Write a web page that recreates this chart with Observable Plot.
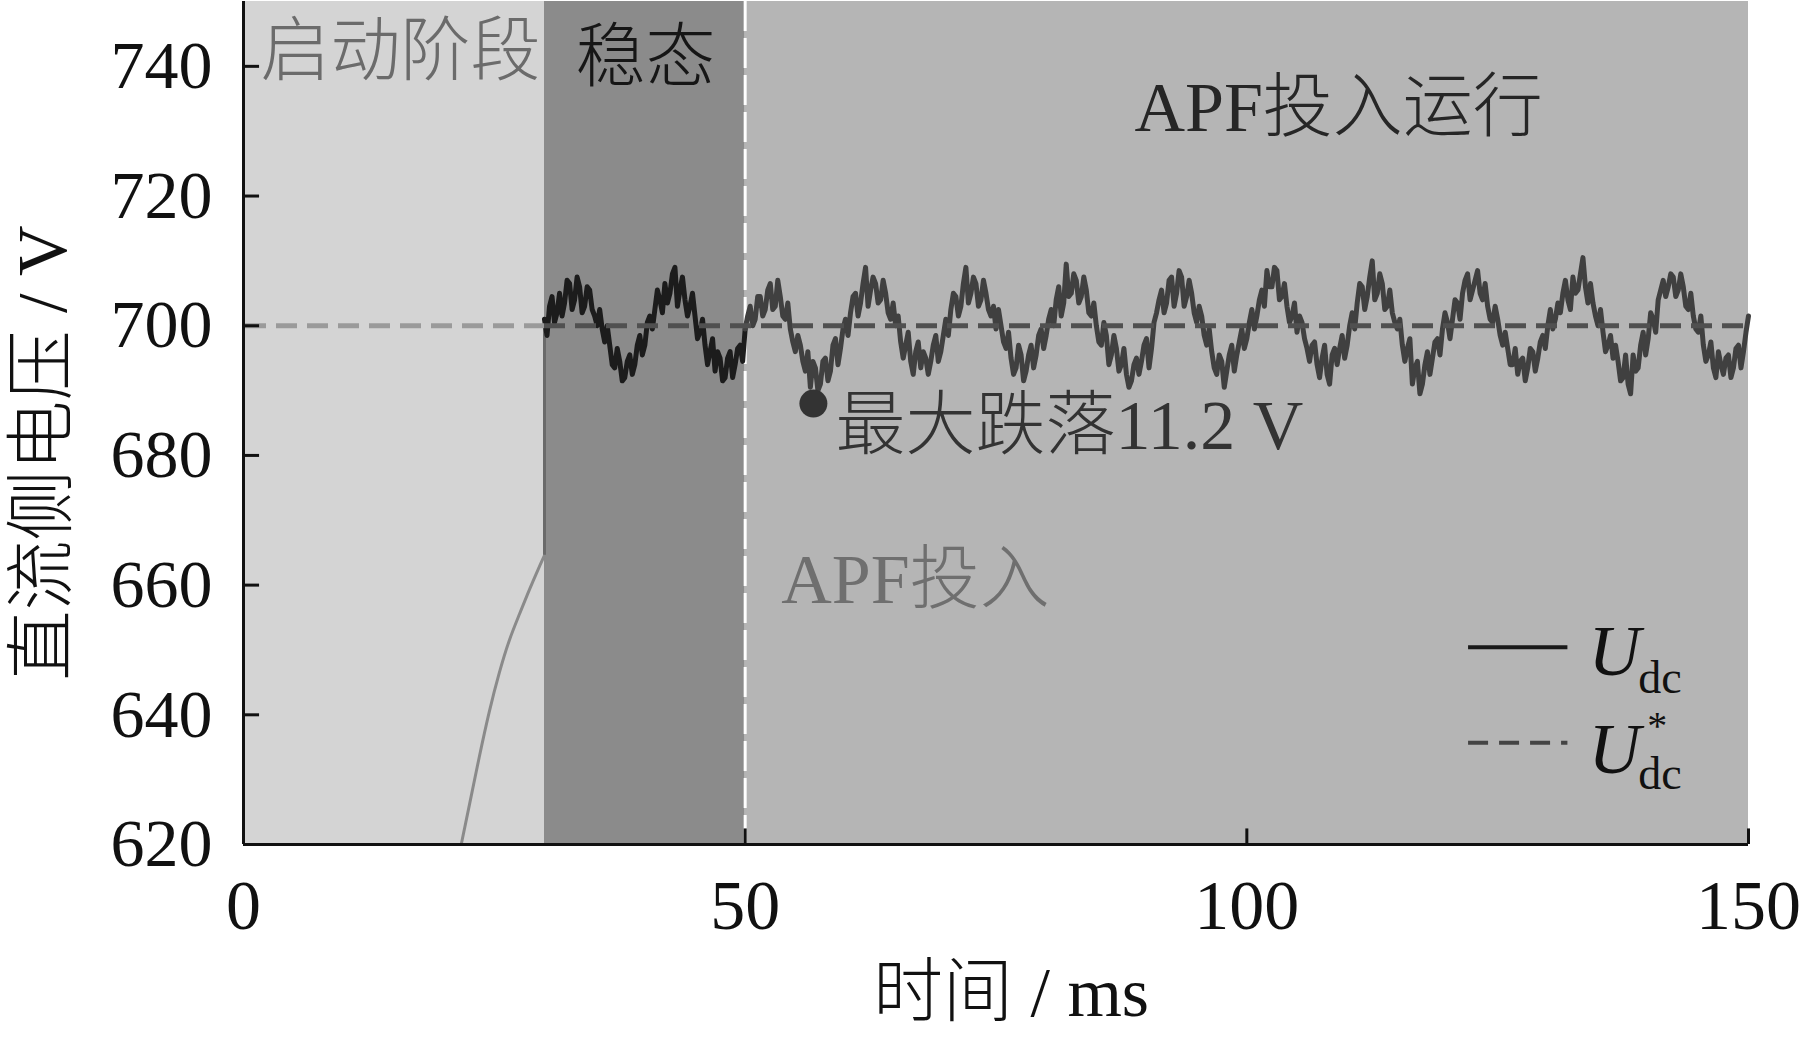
<!DOCTYPE html>
<html>
<head>
<meta charset="utf-8">
<script src="https://cdn.jsdelivr.net/npm/d3@7"></script>
<script src="https://cdn.jsdelivr.net/npm/@observablehq/plot@0.6"></script>
<style>
  html, body { margin: 0; padding: 0; background: #ffffff; }
</style>
</head>
<body>
<div id="chart"></div>
<script>
// ---------- data ----------
const phaseStart = [0, 30, 50];
const phaseEnd = [30, 50, 150];
const xTicks = [0, 50, 100, 150];
const yTicks = [620, 640, 660, 680, 700, 720, 740];
const refVoltage = 700;      // U*dc
const apfTime = 50;          // APF switched in (ms)

// start-up charging curve (ms, V)
const riseTime  = [21.7, 22.5, 23.5, 24.5, 25.5, 26.5, 27.5, 28.5, 29.5, 30];
const riseValue = [620, 626, 633.5, 640.5, 646.5, 651.5, 655.5, 659.3, 662.9, 664.6];
const jumpTop = 701;

// Udc read every 0.5 ms, 30 ms ... 150 ms (V)
const udcStart = 30;
const udcStep = 0.5;
const udcValue = [
  701, 703, 700.5, 705, 703.5, 706.5, 704, 706, 703, 705.5,
  701.5, 702.5, 697.5, 697, 693.5, 694.5, 692, 695.5, 694, 698.5,
  697, 701.5, 702.5, 704, 706.5, 705, 709, 705.5, 704, 703,
  701.5, 699, 697, 696, 693, 695, 692, 696, 694, 697,
  699.5, 703, 701, 704.5, 702.5, 706.5, 703, 704.5, 701, 699.5,
  696, 697, 693, 690.5, 693.5, 691, 695, 693, 698, 696.5,
  701, 702, 705, 703.5, 709, 705.5, 706.5, 704, 705, 701,
  700, 697.5, 697, 694.5, 696, 693.5, 695, 694.5, 698.5, 696,
  701, 702.5, 704.5, 703, 709, 705, 706.5, 704, 705, 701.5,
  699.5, 700, 696.5, 695, 693.5, 695.5, 693, 697, 695.5, 699.5,
  698.5, 702.5, 704, 701.5, 709.5, 705, 707, 704.5, 705.5, 701.5,
  700, 697, 698.5, 695.5, 696.5, 694, 692.5, 691.5, 695, 694.5,
  698, 696.5, 702, 705.5, 703.5, 707.5, 705, 707.5, 704.5, 705,
  700.5, 701.5, 697, 696, 692.5, 694.5, 693, 697, 695.5, 699.5,
  698, 702.5, 701.5, 705.5, 708.5, 706, 708.5, 704.5, 703, 701.5,
  699, 700.5, 696.5, 697, 694, 695, 692.5, 695.5, 694, 698.5,
  697, 702, 703.5, 706, 704.5, 710, 705, 706.5, 703, 702,
  699.5, 697, 696.5, 691, 694.5, 691, 696, 695, 698, 699.5,
  700.5, 701, 703.5, 705, 708, 705.5, 708.5, 704, 703, 700.5,
  701, 697, 696.5, 694, 692.5, 695, 693.5, 696, 695, 698.5,
  700, 699.5, 703.5, 705, 704, 707.5, 705.5, 710.5, 703.5, 703.5,
  700, 699, 697, 695, 694.5, 692, 691, 695.5, 693.5, 699,
  698, 701, 704, 707, 706, 707.5, 705.5, 706, 702.5, 701.5,
  699, 697, 695.5, 693.5, 696, 692.5, 695.5, 693.5, 697, 696,
  701.5
];
// Udc ripple spikes read in between, at 30.25, 30.75, ... 149.75 ms (V)
const udcMidValue = [
  698.5, 704.5, 702, 701.5, 707, 702.5, 707.5, 702, 706, 702.5,
  700, 699.5, 700, 694, 696.5, 691.5, 694.5, 692.5, 697, 695.5,
  700.5, 699.5, 705.5, 702, 703.5, 708, 703, 707.5, 701.5, 705,
  698, 701, 694, 698, 696, 691.5, 695, 692, 696.5, 694.5,
  701.5, 700, 704.5, 701.5, 705.5, 702.5, 707, 701.5, 703.5, 697.5,
  698.5, 694.5, 696, 694.5, 690, 694.5, 691.5, 697, 694, 699.5,
  698.5, 704.5, 701.5, 706.5, 703, 707.5, 703.5, 707, 702, 703.5,
  701.5, 695, 699, 692.5, 697.5, 696, 692.5, 697, 694.5, 698.5,
  698.5, 705, 701.5, 706.5, 703.5, 707.5, 703, 707, 702.5, 703,
  702.5, 697.5, 699, 692.5, 697, 691.5, 695.5, 693.5, 698.5, 696.5,
  701, 700, 706, 703.5, 704.5, 708, 703.5, 707.5, 702, 703.5,
  697.5, 700.5, 694, 698.5, 693, 696.5, 690.5, 694, 692.5, 697,
  693.5, 700.5, 704, 702, 707, 703, 708.5, 703, 707, 702,
  703, 698.5, 699.5, 693.5, 695.5, 690.5, 695.5, 693, 697.5, 696.5,
  700.5, 699.5, 704, 703, 706, 709, 704, 706.5, 700.5, 703.5,
  701.5, 698, 694.5, 697.5, 692, 697, 691, 696.5, 696.5, 695,
  700, 699.5, 706.5, 702.5, 707.5, 704, 708, 702.5, 705.5, 700.5,
  701, 694.5, 698, 693.5, 689.5, 694, 692.5, 697.5, 695.5, 702,
  698, 704, 701, 707, 704, 707, 705, 706.5, 701, 703,
  698.5, 699, 694, 696.5, 694.5, 691.5, 696.5, 693, 697.5, 696.5,
  702.5, 701, 702, 707, 702.5, 705, 708, 706, 706.5, 701.5,
  702.5, 696, 698.5, 697, 691.5, 695.5, 689.5, 693, 697, 695.5,
  702, 699, 705.5, 704.5, 708, 704.5, 708, 703, 705, 699.5,
  701.5, 694.5, 697.5, 692, 694, 695, 692, 696.5, 693.5, 699
];

// maximum dip marker
const dropTime = 56.8;
const dropVolt = 688;

// annotation texts and their anchor (ms, V)
const noteText = ["启动阶段", "稳态", "APF投入运行", "APF投入", "最大跌落11.2 V"];
const noteTime = [1.7, 33.1, 88.8, 53.6, 59.0];
const noteVolt = [742.1, 741.2, 733.5, 660.7, 684.4];

const xTitle = "时间 / ms";
const yTitle = "直流侧电压 / V";

// legend anchors (ms, V)
const legendLineX = [122.1, 132.0];
const legendSolidV = 650.4;
const legendDashV = 635.7;

// ---------- styles ----------
const phaseFill = ["#d4d4d4", "#8b8b8b", "#b5b5b5"];
const noteFill = ["#6b6b6b", "#161616", "#262626", "#6f6f6f", "#333333"];
const FONT = "'Liberation Serif', 'Times New Roman', 'Noto Sans CJK SC', serif";

// ---------- build tables ----------
const phases = phaseStart.map((s, i) => ({start: s, end: phaseEnd[i], fill: phaseFill[i]}));
const udc = [];
udcValue.forEach((v, i) => {
  udc.push({t: udcStart + i * udcStep, v});
  if (i < udcMidValue.length) udc.push({t: udcStart + i * udcStep + udcStep / 2, v: udcMidValue[i]});
});
const steady = udc.filter(d => d.t <= apfTime);
const apf = udc.filter(d => d.t >= apfTime);
const rise = riseTime.map((t, i) => ({t, v: riseValue[i]}));
const notes = noteText.map((s, i) => ({text: s, t: noteTime[i], v: noteVolt[i], fill: noteFill[i]}));

const legendU = [
  {s: "U", t: 134.05, v: 646.1, size: 72, italic: true, anchor: "start"},
  {s: "dc", t: 139.0, v: 643.4, size: 46, italic: false, anchor: "start"},
  {s: "U", t: 134.05, v: 631.1, size: 72, italic: true, anchor: "start"},
  {s: "dc", t: 139.0, v: 628.6, size: 46, italic: false, anchor: "start"},
  {s: "*", t: 140.9, v: 636.3, size: 40, italic: false, anchor: "middle"}
];

const chart = Plot.plot({
  width: 1800,
  height: 1044,
  marginLeft: 243,
  marginRight: 52,
  marginTop: 1,
  marginBottom: 200,
  x: {domain: [0, 150]},
  y: {domain: [620, 750]},
  style: {fontFamily: FONT, fontSize: "68px", color: "#111", background: "transparent", overflow: "visible"},
  marks: [
    ...phases.map(p => Plot.rect([p], {x1: "start", x2: "end", y1: 620, y2: 750, fill: p.fill})),
    Plot.ruleX([apfTime], {stroke: "#ffffff", strokeWidth: 3, strokeDasharray: "30,7"}),
    Plot.line(rise, {x: "t", y: "v", stroke: "#8a8a8a", strokeWidth: 3, curve: "natural"}),
    Plot.ruleX([riseTime[riseTime.length - 1]], {y1: riseValue[riseValue.length - 1], y2: jumpTop, stroke: "#6a6a6a", strokeWidth: 3}),
    Plot.line(steady, {x: "t", y: "v", stroke: "#1c1c1c", strokeWidth: 5}),
    Plot.line(apf, {x: "t", y: "v", stroke: "#404040", strokeWidth: 5}),
    Plot.ruleY([refVoltage], {x1: 0, x2: 30, stroke: "#9a9a9a", strokeWidth: 5, strokeDasharray: "21,10", strokeDashoffset: 29}),
    Plot.ruleY([refVoltage], {x1: 30, x2: 150, stroke: "#505050", strokeWidth: 5, strokeDasharray: "21,10"}),
    Plot.dot([{t: dropTime, v: dropVolt}], {x: "t", y: "v", r: 14, fill: "#333333", stroke: null}),
    // annotations
    ...notes.map(n => Plot.text([n], {x: "t", y: "v", text: "text", textAnchor: "start", lineAnchor: "middle", fontSize: 70, fontWeight: 300, fill: n.fill})),
    // legend
    Plot.ruleY([legendSolidV], {x1: legendLineX[0], x2: legendLineX[1], stroke: "#1a1a1a", strokeWidth: 4}),
    Plot.ruleY([legendDashV], {x1: legendLineX[0], x2: legendLineX[1], stroke: "#444444", strokeWidth: 4, strokeDasharray: "20,11"}),
    ...legendU.map(l => Plot.text([l], {x: "t", y: "v", text: "s", textAnchor: l.anchor, lineAnchor: "bottom", fontSize: l.size, fontStyle: l.italic ? "italic" : "normal", fill: "#111"})),
    // axes lines and inward ticks
    Plot.ruleX([0], {y1: 620, y2: 750, stroke: "#111", strokeWidth: 3}),
    Plot.ruleY([620], {x1: 0, x2: 150, stroke: "#111", strokeWidth: 3}),
    Plot.ruleY(yTicks, {x1: 0, x2: 1.6, stroke: "#111", strokeWidth: 3}),
    Plot.ruleX(xTicks, {y1: 620, y2: 622.4, stroke: "#111", strokeWidth: 3}),
    Plot.axisY({ticks: yTicks, tickSize: 0, tickPadding: 31, label: null, fontSize: 68}),
    Plot.axisX({ticks: xTicks, tickSize: 0, tickPadding: 35, label: null, fontSize: 70}),
    // axis titles
    Plot.text([xTitle], {text: d => d, frameAnchor: "bottom", dx: 15, dy: 171, textAnchor: "middle", lineAnchor: "bottom", fontSize: 70, fontWeight: 300, fill: "#111"}),
    Plot.text([yTitle], {text: d => d, frameAnchor: "left", rotate: -90, dx: -200, dy: 30, textAnchor: "middle", lineAnchor: "middle", fontSize: 70, fontWeight: 300, fill: "#111"})
  ]
});
document.getElementById("chart").appendChild(chart);
</script>
</body>
</html>
